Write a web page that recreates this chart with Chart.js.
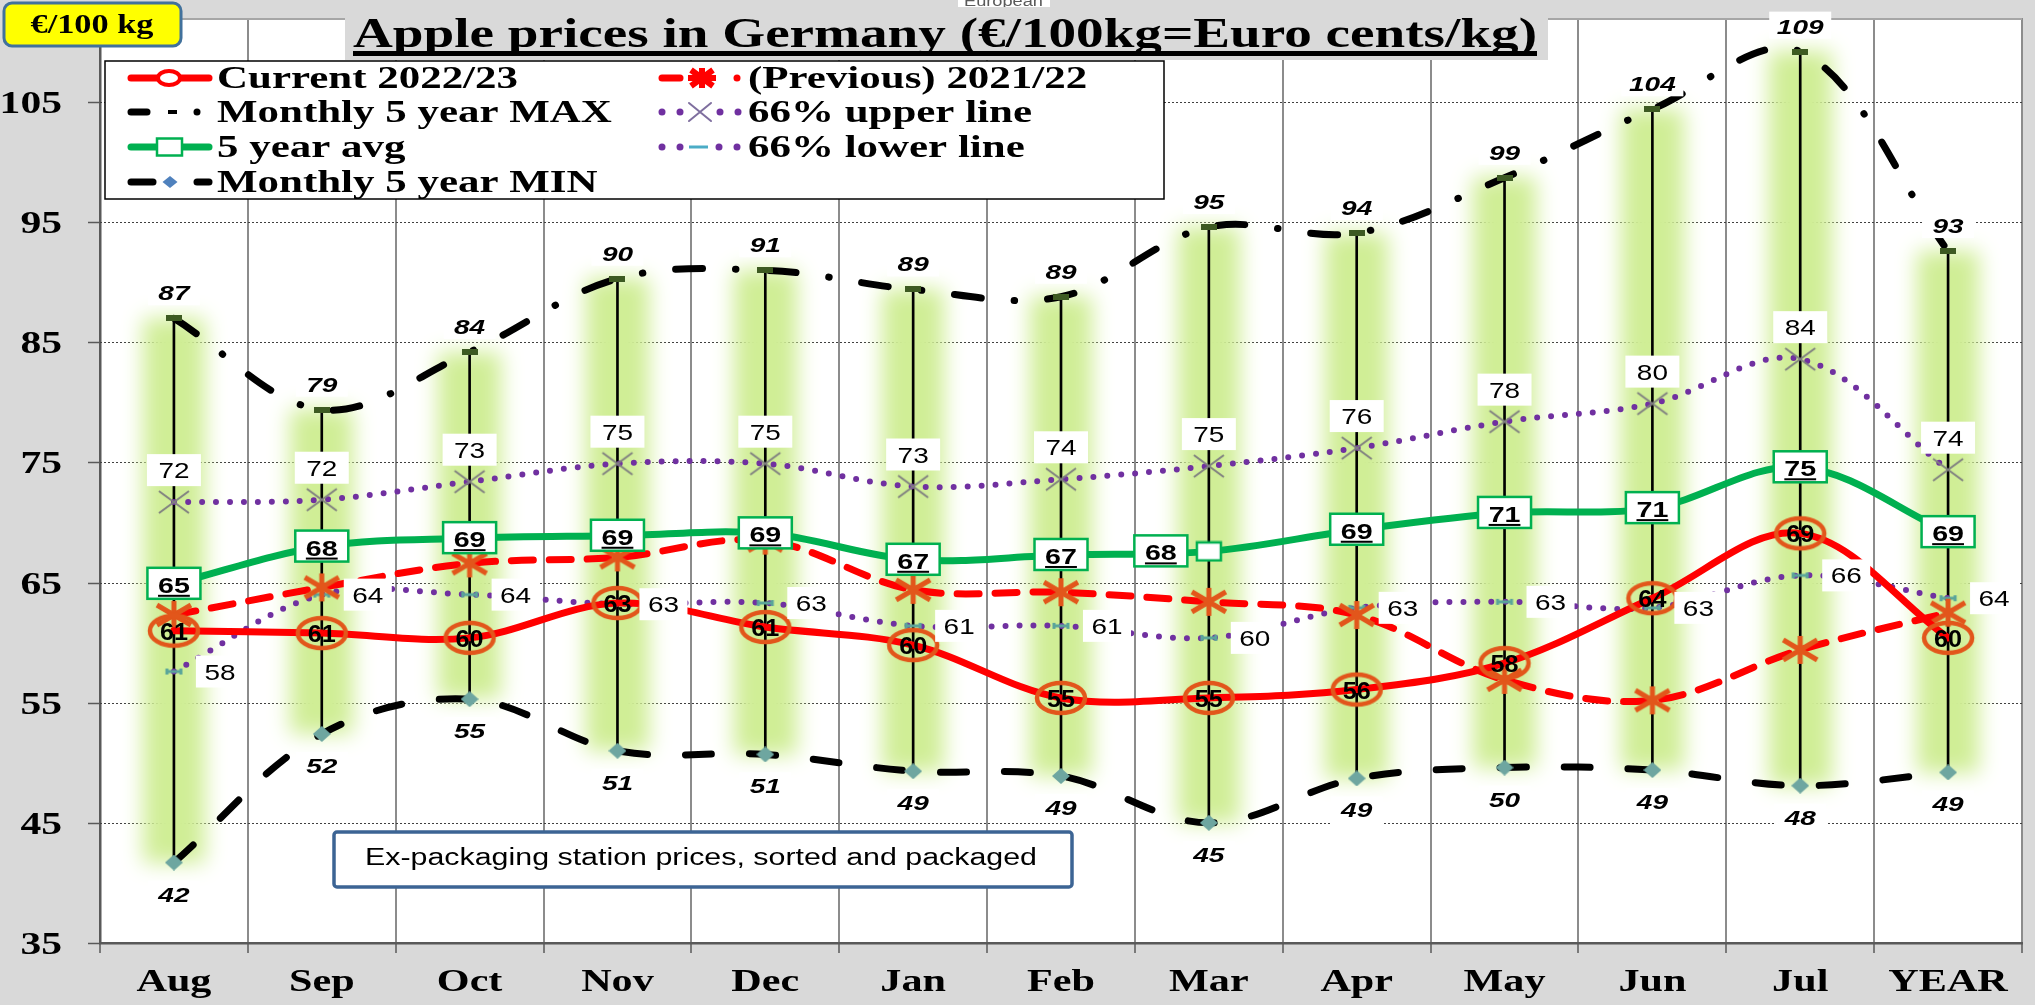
<!DOCTYPE html>
<html>
<head>
<meta charset="utf-8">
<title>Apple prices in Germany</title>
<script src="https://cdn.jsdelivr.net/npm/chart.js@4.4.1/dist/chart.umd.min.js"></script>
<style>
  html, body { margin: 0; padding: 0; background: #d9d9d9; }
  #wrap { width: 2035px; height: 1005px; }
</style>
</head>
<body>
<div id="wrap"><canvas id="chart" width="2035" height="1005"></canvas></div>
<script>
'use strict';

// ── Data ─────────────────────────────────────────────────────────────────────

const months = ['Aug', 'Sep', 'Oct', 'Nov', 'Dec', 'Jan', 'Feb', 'Mar', 'Apr', 'May', 'Jun', 'Jul', 'YEAR'];
const yTickValues = [35, 45, 55, 65, 75, 85, 95, 105];

const seriesNames = [
  'Current 2022/23', 'Monthly 5 year MAX', '5 year avg', 'Monthly 5 year MIN',
  '(Previous) 2021/22', '66% upper line', '66% lower line',
];

const current2223  = [61.0, 60.8, 60.4, 63.3, 61.3, 59.8, 55.4, 55.4, 56.1, 58.3, 63.7, 69.1, 60.4];
const previous2122 = [62.3, 64.6, 66.6, 67.1, 68.5, 64.4, 64.2, 63.4, 62.3, 56.9, 55.2, 59.4, 62.5];
const max5y        = [87.0, 79.4, 84.2, 90.3, 91.0, 89.4, 88.8, 94.6, 94.1, 98.7, 104.4, 109.2, 92.6];
const min5y        = [41.7, 52.4, 55.3, 51.0, 50.7, 49.3, 48.9, 45.0, 48.7, 49.6, 49.4, 48.1, 49.2];
const avg5y        = [64.9, 68.0, 68.7, 68.9, 69.1, 66.9, 67.3, 67.6, 69.4, 70.8, 71.2, 74.6, 69.2];
const upper66      = [71.7, 71.9, 73.4, 74.9, 74.9, 73.0, 73.6, 74.7, 76.2, 78.4, 79.9, 83.6, 74.4];
const lower66      = [57.6, 64.0, 64.0, 63.2, 63.3, 61.4, 61.4, 60.4, 62.9, 63.4, 62.9, 65.6, 63.7];

const rangePairs = max5y.map((v, i) => [min5y[i], v]);

// ── Helpers ──────────────────────────────────────────────────────────────────

const SERIF = '"Liberation Serif", "Times New Roman", serif';
const SANS  = '"Liberation Sans", Arial, sans-serif';

// the reference is stretched horizontally, so text is drawn with an x scale
function stretchText(ctx, text, x, y, font, sx, align = 'center') {
  ctx.save();
  ctx.font = font;
  ctx.textAlign = align;
  ctx.textBaseline = 'alphabetic';
  ctx.translate(x, y);
  ctx.scale(sx, 1);
  ctx.fillText(text, 0, 0);
  ctx.restore();
}

function textWidth(ctx, text, font) {
  ctx.save();
  ctx.font = font;
  const w = ctx.measureText(text).width;
  ctx.restore();
  return w;
}

function marker(w, h, draw) {
  const c = document.createElement('canvas');
  c.width = w; c.height = h;
  draw(c.getContext('2d'), w, h);
  return c;
}

const ringMark = marker(58, 40, (g, w, h) => {
  g.strokeStyle = '#e2561b'; g.lineWidth = 4.5;
  g.beginPath(); g.ellipse(w / 2, h / 2, 24, 15, 0, 0, Math.PI * 2); g.stroke();
});
const starMark = marker(44, 32, (g, w, h) => {
  g.strokeStyle = '#e2561b'; g.lineWidth = 5;
  g.beginPath();
  g.moveTo(w / 2, 2); g.lineTo(w / 2, h - 2);
  g.moveTo(5, 6); g.lineTo(w - 5, h - 6);
  g.moveTo(5, h - 6); g.lineTo(w - 5, 6);
  g.stroke();
});
const crossMark = marker(34, 26, (g, w, h) => {
  g.strokeStyle = '#808080'; g.lineWidth = 2;
  g.beginPath();
  g.moveTo(2, 2); g.lineTo(w - 2, h - 2);
  g.moveTo(2, h - 2); g.lineTo(w - 2, 2);
  g.stroke();
});
const dashMark = marker(20, 8, (g, w, h) => {
  g.strokeStyle = '#5aa59a'; g.lineWidth = 3;
  g.beginPath();
  g.moveTo(2, h / 2); g.lineTo(w - 2, h / 2);
  g.moveTo(3, 1); g.lineTo(3, h - 1);
  g.moveTo(w - 3, 1); g.lineTo(w - 3, h - 1);
  g.stroke();
});
const diamondMark = marker(18, 16, (g, w, h) => {
  g.fillStyle = '#6ea6a0';
  g.beginPath();
  g.moveTo(w / 2, 0); g.lineTo(w, h / 2); g.lineTo(w / 2, h); g.lineTo(0, h / 2);
  g.closePath(); g.fill();
});
const squareMark = marker(28, 22, (g, w, h) => {
  g.fillStyle = '#fff'; g.strokeStyle = '#00b050'; g.lineWidth = 2.5;
  g.fillRect(2, 2, w - 4, h - 4); g.strokeRect(2, 2, w - 4, h - 4);
});
const capMark = marker(16, 6, (g, w, h) => {
  g.fillStyle = '#3d5a22'; g.fillRect(0, 0, w, h);
});

function lineDs(label, data, color, width, dash, point, order) {
  return {
    type: 'line', label, data,
    borderColor: color, borderWidth: width, borderDash: dash,
    borderCapStyle: 'round', borderJoinStyle: 'round',
    tension: 0.35, fill: false,
    pointStyle: point, pointRadius: 6, pointHoverRadius: 6,
    order,
  };
}

// ── Plugins ──────────────────────────────────────────────────────────────────

const IDX = { glow: 0, stem: 1, max: 2, min: 3, upper: 4, lower: 5, prev: 6, avg: 7, cur: 8 };
const SHADOW_SHIFT = 10000;

const backdropPlugin = {
  id: 'backdrop',
  beforeDraw(chart) {
    const { ctx, chartArea: a } = chart;
    ctx.save();
    ctx.fillStyle = '#d9d9d9';
    ctx.fillRect(0, 0, chart.width, chart.height);
    ctx.fillStyle = '#fff';
    ctx.fillRect(a.left, a.top, a.right - a.left, a.bottom - a.top);
    ctx.restore();
  },
  beforeDatasetsDraw(chart) {
    const { ctx, chartArea: a, scales: { x, y } } = chart;
    ctx.save();
    // dotted horizontal grid
    ctx.strokeStyle = '#404040'; ctx.lineWidth = 1; ctx.setLineDash([2, 2]);
    yTickValues.slice(1).forEach(v => {
      const py = Math.round(y.getPixelForValue(v)) + 0.5;
      ctx.beginPath(); ctx.moveTo(a.left, py); ctx.lineTo(a.right, py); ctx.stroke();
    });
    ctx.setLineDash([]);
    // plot top edge
    ctx.strokeStyle = '#a6a6a6'; ctx.lineWidth = 2;
    ctx.beginPath(); ctx.moveTo(a.left, a.top + 1); ctx.lineTo(a.right, a.top + 1); ctx.stroke();
    // tick marks
    ctx.strokeStyle = '#595959'; ctx.lineWidth = 1.5;
    yTickValues.forEach(v => {
      const py = Math.round(y.getPixelForValue(v)) + 0.5;
      ctx.beginPath(); ctx.moveTo(a.left - 12, py); ctx.lineTo(a.left, py); ctx.stroke();
    });
    const step = (a.right - a.left) / months.length;
    for (let i = 0; i <= months.length; i++) {
      const px = Math.round(a.left + i * step);
      ctx.beginPath(); ctx.moveTo(px, a.bottom); ctx.lineTo(px, a.bottom + 10); ctx.stroke();
    }
    // tick labels
    ctx.fillStyle = '#000';
    yTickValues.forEach(v => {
      stretchText(ctx, String(v), 62, y.getPixelForValue(v) + 11, 'bold 32px ' + SERIF, 1.3, 'right');
    });
    months.forEach((m, i) => {
      stretchText(ctx, m, x.getPixelForValue(i), 991, 'bold 31px ' + SERIF, 1.36);
    });
    ctx.restore();
  },
  // the glow bars are drawn off-canvas so only their blurred shadow lands on the plot
  beforeDatasetDraw(chart, args) {
    if (args.index !== IDX.glow) return;
    const ctx = chart.ctx;
    ctx.save();
    ctx.translate(-SHADOW_SHIFT, 0);
    ctx.shadowOffsetX = SHADOW_SHIFT;
    ctx.shadowColor = 'rgb(208,238,150)';
    ctx.shadowBlur = 20;
  },
  afterDatasetDraw(chart, args) {
    if (args.index !== IDX.glow) return;
    chart.ctx.restore();
  },
};

const avgShift = { 7: -48 }; // Mar avg label sits left of its marker

const labelPlugin = {
  id: 'pointLabels',
  afterDatasetsDraw(chart) {
    const ctx = chart.ctx;
    const pts = i => chart.getDatasetMeta(i).data;
    ctx.save();

    // 5 year MAX, above
    pts(IDX.max).forEach((p, i) => {
      const t = String(Math.round(max5y[i]));
      const w = t.length > 2 ? 62 : 52;
      ctx.fillStyle = '#fff'; ctx.fillRect(p.x - w / 2, p.y - 40, w, 27);
      ctx.fillStyle = '#000';
      stretchText(ctx, t, p.x, p.y - 18, 'italic bold 20px ' + SANS, 1.4);
    });
    // 5 year MIN, below
    pts(IDX.min).forEach((p, i) => {
      const t = String(Math.round(min5y[i]));
      ctx.fillStyle = '#fff'; ctx.fillRect(p.x - 26, p.y + 18, 52, 28);
      ctx.fillStyle = '#000';
      stretchText(ctx, t, p.x, p.y + 39, 'italic bold 20px ' + SANS, 1.4);
    });
    // 66% upper, boxed above
    pts(IDX.upper).forEach((p, i) => {
      const t = String(Math.round(upper66[i]));
      const cy = p.y - 32;
      ctx.fillStyle = '#fff'; ctx.fillRect(p.x - 27, cy - 16, 54, 32);
      ctx.fillStyle = '#000';
      stretchText(ctx, t, p.x, cy + 8, '22px ' + SANS, 1.27);
    });
    // 66% lower, boxed to the right
    pts(IDX.lower).forEach((p, i) => {
      const t = String(Math.round(lower66[i]));
      ctx.fillStyle = '#fff'; ctx.fillRect(p.x + 22, p.y - 16, 48, 32);
      ctx.fillStyle = '#000';
      stretchText(ctx, t, p.x + 46, p.y + 8, '22px ' + SANS, 1.27);
    });
    // 5 year avg, green boxed, underlined
    pts(IDX.avg).forEach((p, i) => {
      const t = String(Math.round(avg5y[i]));
      const cx = p.x + (avgShift[i] || 0);
      const cy = p.y;
      ctx.fillStyle = '#fff'; ctx.fillRect(cx - 26.5, cy - 16, 53, 31);
      ctx.strokeStyle = '#00b050'; ctx.lineWidth = 2.5; ctx.strokeRect(cx - 26.5, cy - 16, 53, 31);
      ctx.fillStyle = '#000';
      const font = 'bold 22px ' + SANS;
      stretchText(ctx, t, cx, cy + 9, font, 1.3);
      const tw = textWidth(ctx, t, font) * 1.3;
      ctx.fillRect(cx - tw / 2, cy + 11, tw, 2);
    });
    // current, inside the ring
    pts(IDX.cur).forEach((p, i) => {
      ctx.fillStyle = '#000';
      stretchText(ctx, String(Math.round(current2223[i])), p.x, p.y + 9, 'bold 24px ' + SANS, 1.05);
    });
    ctx.restore();
  },
};

function drawLegend(ctx) {
  ctx.save();
  ctx.fillStyle = '#fff'; ctx.fillRect(105, 61, 1059, 138);
  ctx.strokeStyle = '#000'; ctx.lineWidth = 1.5; ctx.strokeRect(105, 61, 1059, 138);

  const font = 'bold 31px ' + SERIF;
  const sx = 301 / textWidth(ctx, seriesNames[0], font);
  const rows = [78, 112, 147, 182];
  ctx.fillStyle = '#000';
  for (let r = 0; r < 4; r++) stretchText(ctx, seriesNames[r], 217, rows[r] + 10, font, sx, 'left');
  for (let r = 0; r < 3; r++) stretchText(ctx, seriesNames[4 + r], 748, rows[r] + 10, font, sx, 'left');

  ctx.lineCap = 'round';
  const seg = (x1, x2, y, color, w) => {
    ctx.strokeStyle = color; ctx.lineWidth = w;
    ctx.beginPath(); ctx.moveTo(x1, y); ctx.lineTo(x2, y); ctx.stroke();
  };
  const dot = (x, y, r, color) => {
    ctx.fillStyle = color; ctx.beginPath(); ctx.arc(x, y, r, 0, Math.PI * 2); ctx.fill();
  };

  // current
  seg(131, 209, rows[0], '#ff0000', 7);
  ctx.fillStyle = '#fff'; ctx.strokeStyle = '#ff0000'; ctx.lineWidth = 4;
  ctx.beginPath(); ctx.ellipse(169, rows[0], 11, 7, 0, 0, Math.PI * 2); ctx.fill(); ctx.stroke();
  // max
  seg(131, 147, rows[1], '#000', 7);
  ctx.fillStyle = '#000'; ctx.fillRect(168, rows[1] - 2, 9, 4);
  dot(197, rows[1], 3.5, '#000');
  // avg
  seg(131, 209, rows[2], '#00b050', 7);
  ctx.fillStyle = '#fff'; ctx.strokeStyle = '#00b050'; ctx.lineWidth = 2.5;
  ctx.fillRect(157, rows[2] - 8.5, 25, 17); ctx.strokeRect(157, rows[2] - 8.5, 25, 17);
  // min
  seg(131, 153, rows[3], '#000', 7);
  seg(197, 209, rows[3], '#000', 7);
  ctx.fillStyle = '#4f81bd';
  ctx.beginPath();
  ctx.moveTo(170, rows[3] - 6); ctx.lineTo(177.5, rows[3]); ctx.lineTo(170, rows[3] + 6); ctx.lineTo(162.5, rows[3]);
  ctx.closePath(); ctx.fill();
  // previous
  seg(662, 680, rows[0], '#ff0000', 7);
  ctx.strokeStyle = '#ff0000'; ctx.lineWidth = 6; ctx.lineCap = 'butt';
  ctx.beginPath();
  ctx.moveTo(702, rows[0] - 10); ctx.lineTo(702, rows[0] + 10);
  ctx.moveTo(688, rows[0]); ctx.lineTo(716, rows[0]);
  ctx.moveTo(691, rows[0] - 8); ctx.lineTo(713, rows[0] + 8);
  ctx.moveTo(691, rows[0] + 8); ctx.lineTo(713, rows[0] - 8);
  ctx.stroke();
  ctx.lineCap = 'round';
  dot(737, rows[0], 3.5, '#ff0000');
  // upper
  [662, 680, 720, 738].forEach(x => dot(x, rows[1], 3.5, '#7030a0'));
  ctx.strokeStyle = '#7f6f9f'; ctx.lineWidth = 2;
  ctx.beginPath();
  ctx.moveTo(689, rows[1] - 9); ctx.lineTo(711, rows[1] + 9);
  ctx.moveTo(689, rows[1] + 9); ctx.lineTo(711, rows[1] - 9);
  ctx.stroke();
  // lower
  [662, 680, 719, 737].forEach(x => dot(x, rows[2], 3.5, '#7030a0'));
  ctx.lineCap = 'butt';
  seg(689, 708, rows[2], '#4bacc6', 3);
  ctx.restore();
}

const decorPlugin = {
  id: 'decor',
  afterDraw(chart) {
    const ctx = chart.ctx;
    ctx.save();

    // title
    ctx.fillStyle = '#d9d9d9'; ctx.fillRect(345, 0, 1203, 60);
    const tFont = 'bold 42px ' + SERIF;
    const title = 'Apple prices in Germany (€/100kg=Euro cents/kg)';
    const tsx = 1184 / textWidth(ctx, title, tFont);
    ctx.fillStyle = '#000';
    stretchText(ctx, title, 353, 47, tFont, tsx, 'left');
    ctx.fillRect(353, 51, 1184, 5);

    // clipped tag above the title
    ctx.save();
    ctx.beginPath(); ctx.rect(958, 0, 92, 7); ctx.clip();
    ctx.fillStyle = '#fff'; ctx.fillRect(958, 0, 92, 7);
    ctx.fillStyle = '#595959';
    stretchText(ctx, 'European', 964, 6, '14px ' + SANS, 1.3, 'left');
    ctx.restore();

    // unit badge
    ctx.fillStyle = '#ffff00'; ctx.strokeStyle = '#41719c'; ctx.lineWidth = 3;
    ctx.beginPath(); ctx.roundRect(4, 3, 177, 43, 8); ctx.fill(); ctx.stroke();
    const uFont = 'bold 27px ' + SERIF;
    ctx.fillStyle = '#000';
    stretchText(ctx, '€/100 kg', 92, 33, uFont, 123 / textWidth(ctx, '€/100 kg', uFont));

    drawLegend(ctx);

    // note box
    ctx.fillStyle = '#fff'; ctx.strokeStyle = '#3c6494'; ctx.lineWidth = 3.5;
    ctx.beginPath(); ctx.roundRect(334, 832, 738, 55, 3); ctx.fill(); ctx.stroke();
    const note = 'Ex-packaging station prices, sorted and packaged';
    const nFont = '23px ' + SANS;
    ctx.fillStyle = '#000';
    stretchText(ctx, note, 365, 865, nFont, 672 / textWidth(ctx, note, nFont), 'left');

    ctx.restore();
  },
};

// ── Chart ────────────────────────────────────────────────────────────────────

new Chart(document.getElementById('chart'), {
  type: 'bar',
  data: {
    labels: months,
    datasets: [
      { type: 'bar', label: 'range glow', data: rangePairs, backgroundColor: '#000',
        borderWidth: 0, barThickness: 62, grouped: false, clip: false, order: 20 },
      { type: 'bar', label: 'range', data: rangePairs, backgroundColor: '#000',
        borderWidth: 0, barThickness: 2, grouped: false, order: 19 },
      lineDs(seriesNames[1], max5y, '#000', 7, [27, 33, 0.5, 33], capMark, 8),
      lineDs(seriesNames[3], min5y, '#000', 7, [26, 38], diamondMark, 7),
      lineDs(seriesNames[5], upper66, '#7030a0', 6, [0, 14], crossMark, 6),
      lineDs(seriesNames[6], lower66, '#7030a0', 6, [0, 14], dashMark, 5),
      lineDs(seriesNames[4], previous2122, '#ff0000', 7, [22, 16], starMark, 4),
      lineDs(seriesNames[2], avg5y, '#00b050', 7, [], squareMark, 3),
      lineDs(seriesNames[0], current2223, '#ff0000', 7, [], ringMark, 2),
    ],
  },
  options: {
    responsive: false,
    animation: false,
    events: [],
    layout: { padding: { left: 100, top: 18, right: 3, bottom: 62 } },
    scales: {
      x: {
        offset: true,
        grid: { display: true, offset: true, color: '#8c8c8c', lineWidth: 2, drawTicks: false },
        border: { display: true, color: '#595959', width: 2.5 },
        ticks: { display: false },
      },
      y: {
        min: 35, max: 112,
        ticks: { display: false, stepSize: 10 },
        grid: { display: false, drawTicks: false },
        border: { display: true, color: '#595959', width: 2.5 },
      },
    },
    plugins: {
      legend: { display: false },
      tooltip: { enabled: false },
      title: { display: false },
    },
  },
  plugins: [backdropPlugin, labelPlugin, decorPlugin],
});
</script>
</body>
</html>
